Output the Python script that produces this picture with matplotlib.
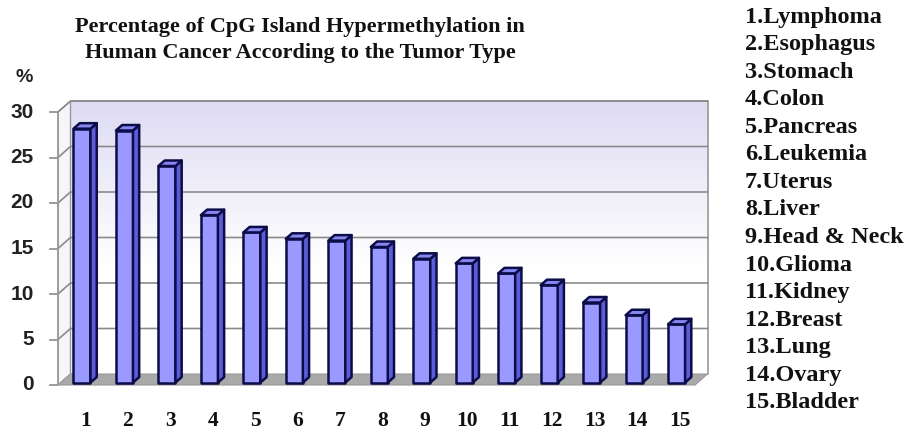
import numpy as np
import matplotlib
matplotlib.use("Agg")
import matplotlib.pyplot as plt
from matplotlib.patches import Polygon

# ---------------- data ----------------
categories = ["1", "2", "3", "4", "5", "6", "7", "8", "9", "10", "11", "12", "13", "14", "15"]
tumor_types = ["Lymphoma", "Esophagus", "Stomach", "Colon", "Pancreas", "Leukemia",
               "Uterus", "Liver", "Head & Neck", "Glioma", "Kidney", "Breast",
               "Lung", "Ovary", "Bladder"]
values = [27.9, 27.7, 23.8, 18.4, 16.5, 15.8, 15.6, 14.9, 13.6, 13.1, 12.0, 10.7, 8.8, 7.4, 6.4]
yticks = [0, 5, 10, 15, 20, 25, 30]
title = "Percentage of CpG Island Hypermethylation in\nHuman Cancer According to the Tumor Type"

# ---------------- figure geometry ----------------
W, H = 909, 432
fig = plt.figure(figsize=(W / 100, H / 100), dpi=100)
fig.patch.set_facecolor("white")

px_x = 42.47      # pixels per category
px_y = 9.1        # pixels per % unit
x0_px, y0_px = 58, 385
xlim = (-0.5, 15.6)
ylim = (-1.5, 32.0)
left_px = x0_px + xlim[0] * px_x
right_px = x0_px + xlim[1] * px_x
bot_px = y0_px - ylim[0] * px_y
top_px = y0_px - ylim[1] * px_y
ax = fig.add_axes([left_px / W, 1 - bot_px / H, (right_px - left_px) / W, (bot_px - top_px) / H])
ax.set_xlim(*xlim)
ax.set_ylim(*ylim)
ax.axis("off")

n = len(values)
ymax = 30
DX = 12.5 / px_x   # depth offset in x (categories)
DY = 11.0 / px_y   # depth offset in y (% units)

# back wall with gradient
grad = np.linspace(0, 1, 256).reshape(-1, 1)
top_col = np.array([0.87, 0.86, 0.95])
bot_col = np.array([1.0, 1.0, 1.0])
t = np.clip(grad / 0.6, 0, 1)  # 0 at top
img = top_col * (1 - t[..., None]) + bot_col * t[..., None]
img = img.reshape(256, 1, 3)
ax.imshow(img, extent=[DX, n + DX, DY, ymax + DY], origin="upper", aspect="auto", zorder=1)

# side wall
side = Polygon([(0, 0), (DX, DY), (DX, ymax + DY), (0, ymax)], closed=True,
               facecolor="#f6f6fa", edgecolor="#9a9a9a", lw=1.0, zorder=2)
ax.add_patch(side)
# back wall border
ax.plot([DX, n + DX, n + DX], [ymax + DY, ymax + DY, DY], color="#9a9a9a", lw=1.2, zorder=2)

# gridlines
for v in yticks[1:]:
    ax.plot([0, DX, n + DX], [v, v + DY, v + DY], color="#8a8a8a", lw=1.2, zorder=3)
    ax.plot([-0.19, 0], [v, v], color="#8a8a8a", lw=1.2, zorder=3)
ax.plot([-0.19, 0], [0, 0], color="#8a8a8a", lw=1.2, zorder=3)
ax.plot([0, 0], [0, ymax], color="#9a9a9a", lw=1.2, zorder=3)

# floor
floor = Polygon([(0, 0), (n, 0), (n + DX, DY), (DX, DY)], closed=True,
                facecolor="#a9a9a9", edgecolor="#9a9a9a", lw=0.8, zorder=3)
ax.add_patch(floor)

# bars
bw = 0.40
f0 = 0.22     # front depth fraction
bd = 0.50     # bar depth fraction
edge = "#0c0c48"
for i, v in enumerate(values):
    cx = i + 0.5 + f0 * DX
    by = f0 * DY
    xl, xr = cx - bw / 2, cx + bw / 2
    ddx, ddy = bd * DX, bd * DY
    front = Polygon([(xl, by), (xr, by), (xr, by + v), (xl, by + v)], closed=True,
                    facecolor="#9999ff", edgecolor=edge, lw=1.8, zorder=5, joinstyle="round")
    sidep = Polygon([(xr, by), (xr + ddx, by + ddy), (xr + ddx, by + v + ddy), (xr, by + v)], closed=True,
                    facecolor="#5c5cd6", edgecolor=edge, lw=1.8, zorder=5, joinstyle="round")
    topp = Polygon([(xl, by + v), (xr, by + v), (xr + ddx, by + v + ddy), (xl + ddx, by + v + ddy)], closed=True,
                   facecolor="#8686f0", edgecolor=edge, lw=1.8, zorder=5, joinstyle="round")
    for p in (front, sidep, topp):
        ax.add_patch(p)

# y tick labels
for v in yticks:
    ax.text(-0.57, v, str(v), ha="right", va="center", fontsize=15,
            family="Liberation Sans", fontweight="bold", color="#222222", clip_on=False)
fig.text(24 / W, 1 - 78 / H, "%", ha="center", va="center", fontsize=14,
         family="Liberation Sans", fontweight="bold", color="#222222")

# x tick labels
for i, c in enumerate(categories):
    ax.text(i + 0.5 + 0.14, -3.96, c, ha="center", va="center", fontsize=15.5,
            family="Liberation Serif", fontweight="bold", color="#111111", clip_on=False)

# title
fig.text(300 / W, 1 - 40 / H, title, ha="center", va="center", fontsize=16,
         family="Liberation Serif", fontweight="bold", color="#111111", linespacing=1.45)

# legend list
for i, (c, name) in enumerate(zip(categories, tumor_types)):
    fig.text(745 / W, 1 - (17 + 27.57 * i) / H, f"{c}.{name}", ha="left", va="center",
             fontsize=17.5, family="Liberation Serif", fontweight="bold", color="#111111")

fig.savefig("out.png", dpi=100)
